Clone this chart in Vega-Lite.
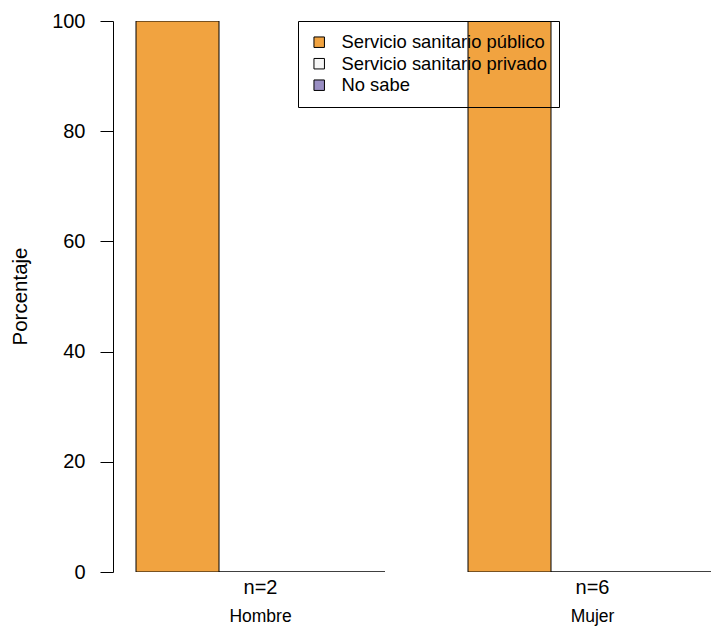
{
  "$schema": "https://vega.github.io/schema/vega-lite/v6.json",
  "width": 598,
  "height": 551,
  "autosize": {"type": "none"},
  "padding": {"left": 113, "top": 21, "right": 0, "bottom": 55},
  "background": "white",
  "config": {
    "font": "Liberation Sans",
    "view": {"stroke": null},
    "axis": {"labelColor": "black", "titleColor": "black", "domainColor": "black", "tickColor": "black", "grid": false}
  },
  "datasets": {
    "barras": [
      {"grupo": "Hombre", "n": "n=2", "categoria": "Servicio sanitario público", "porcentaje": 100},
      {"grupo": "Hombre", "n": "n=2", "categoria": "Servicio sanitario privado", "porcentaje": 0},
      {"grupo": "Hombre", "n": "n=2", "categoria": "No sabe", "porcentaje": 0},
      {"grupo": "Mujer", "n": "n=6", "categoria": "Servicio sanitario público", "porcentaje": 100},
      {"grupo": "Mujer", "n": "n=6", "categoria": "Servicio sanitario privado", "porcentaje": 0},
      {"grupo": "Mujer", "n": "n=6", "categoria": "No sabe", "porcentaje": 0}
    ],
    "grupos": [
      {"grupo": "Hombre", "n": "n=2"},
      {"grupo": "Mujer", "n": "n=6"}
    ]
  },
  "layer": [
    {
      "data": {"name": "barras"},
      "mark": {"type": "bar", "stroke": "black", "strokeWidth": 1, "clip": true},
      "encoding": {
        "x": {
          "field": "n", "type": "nominal", "sort": null,
          "scale": {"range": [23, 604], "paddingInner": 0.25, "paddingOuter": 0},
          "axis": {"title": null, "domain": false, "ticks": false, "labelAngle": 0, "labelFontSize": 20, "labelPadding": 5}
        },
        "xOffset": {
          "field": "categoria", "type": "nominal", "sort": null,
          "scale": {"paddingInner": 0, "paddingOuter": 0}
        },
        "y": {
          "field": "porcentaje", "type": "quantitative",
          "scale": {"domain": [0, 100], "nice": false},
          "axis": {
            "values": [0, 20, 40, 60, 80, 100], "tickSize": 13, "labelPadding": 15, "labelFontSize": 20,
            "title": "Porcentaje", "titleFontSize": 20.5, "titleFontWeight": "normal",
            "titleX": -93, "titleY": 275, "titleBaseline": "middle", "titleAlign": "center", "titleAngle": -90
          }
        },
        "color": {
          "field": "categoria", "type": "nominal",
          "scale": {
            "domain": ["Servicio sanitario público", "Servicio sanitario privado", "No sabe"],
            "range": ["#F1A340", "#F7F7F7", "#998EC3"]
          },
          "legend": {
            "title": null, "orient": "none", "legendX": 185, "legendY": 0,
            "strokeColor": "black", "padding": 12, "rowPadding": 2.5,
            "symbolType": "square", "symbolSize": 110, "symbolStrokeColor": "black", "symbolStrokeWidth": 1,
            "symbolOpacity": 1,
            "labelFontSize": 18.4, "labelOffset": 13, "labelColor": "black", "labelLimit": 400
          }
        }
      }
    },
    {
      "data": {"name": "grupos"},
      "mark": {"type": "text", "fontSize": 17.5, "fontWeight": "normal", "baseline": "alphabetic", "dy": 50, "color": "black"},
      "encoding": {
        "x": {"field": "n", "type": "nominal", "sort": null},
        "y": {"datum": 0},
        "text": {"field": "grupo"}
      }
    }
  ]
}
